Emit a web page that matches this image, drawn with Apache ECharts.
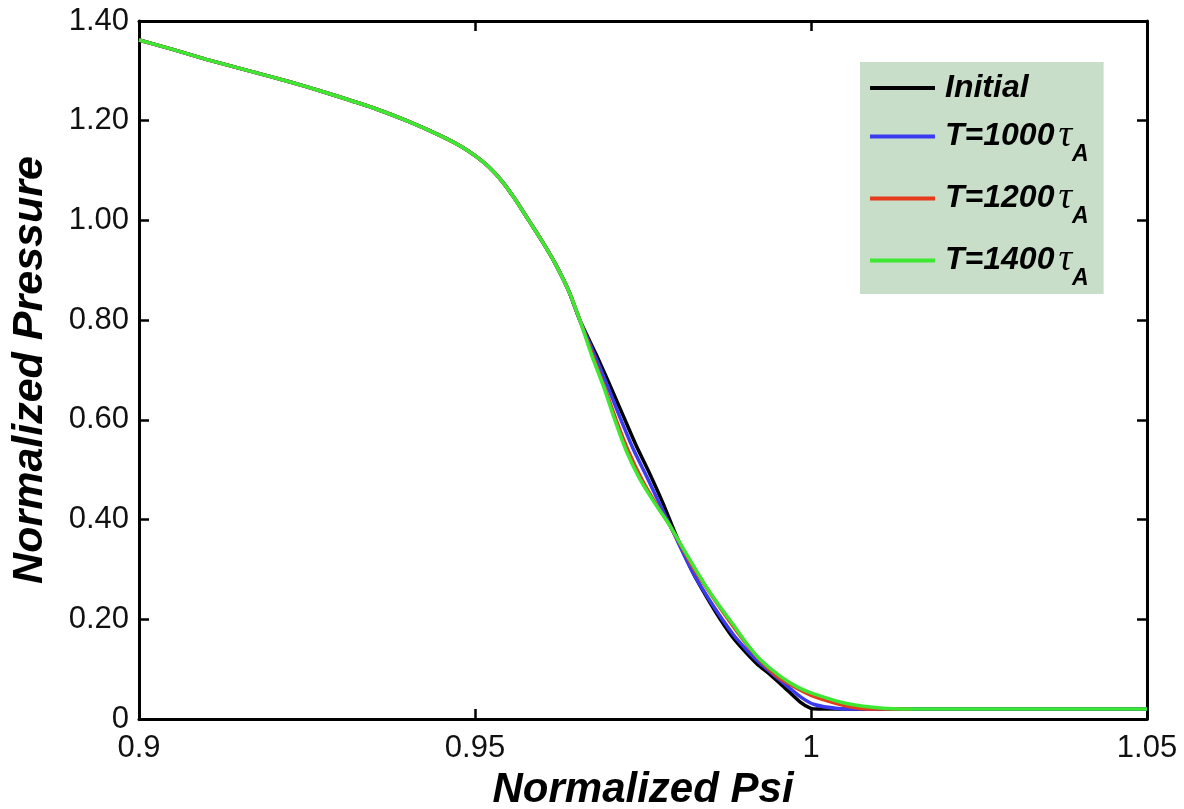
<!DOCTYPE html>
<html>
<head>
<meta charset="utf-8">
<title>Normalized Pressure vs Normalized Psi</title>
<script src="https://cdn.jsdelivr.net/npm/echarts@6/dist/echarts.min.js"></script>
<style>
  html, body { margin: 0; padding: 0; background: #ffffff; }
  #chart { width: 1184px; height: 809px; }
</style>
</head>
<body>
<div id="chart"></div>
<script>
// Profile shared by all four states (core region, psi 0.90 - 0.9656)
const psiCore = [0.900, 0.905, 0.910, 0.915, 0.920, 0.925, 0.930, 0.935, 0.940, 0.945, 0.948, 0.950, 0.952, 0.954, 0.956, 0.958, 0.960, 0.962, 0.964, 0.9656];
const presCore = [1.362, 1.343, 1.323, 1.305, 1.287, 1.268, 1.247, 1.225, 1.199, 1.169, 1.148, 1.130, 1.108, 1.079, 1.042, 1.000, 0.958, 0.912, 0.857, 0.800];

// Edge region for each state
const psiInitial = [0.9680, 0.9699, 0.9720, 0.9740, 0.9760, 0.9780, 0.9800, 0.9825, 0.9845, 0.9865, 0.9884, 0.9904, 0.9920, 0.9940, 0.9960, 0.9984, 0.9999, 1.0010, 1.0500];
const presInitial = [0.732, 0.675, 0.610, 0.548, 0.492, 0.432, 0.366, 0.292, 0.244, 0.200, 0.163, 0.132, 0.110, 0.088, 0.064, 0.034, 0.022, 0.020, 0.020];

const psiT1000 = [0.9678, 0.9696, 0.9716, 0.9736, 0.9756, 0.9776, 0.9796, 0.9824, 0.9855, 0.9884, 0.9904, 0.9924, 0.9954, 0.9985, 1.0005, 1.0040, 1.0070, 1.0500];
const presT1000 = [0.730, 0.672, 0.604, 0.540, 0.485, 0.428, 0.372, 0.294, 0.226, 0.170, 0.139, 0.112, 0.078, 0.044, 0.029, 0.021, 0.020, 0.020];

const psiT1200 = [0.9675, 0.9692, 0.9710, 0.9728, 0.9750, 0.9770, 0.9790, 0.9825, 0.9858, 0.9884, 0.9904, 0.9924, 0.9954, 1.0003, 1.0053, 1.0085, 1.0150];
const presT1200 = [0.730, 0.668, 0.600, 0.538, 0.476, 0.430, 0.388, 0.303, 0.236, 0.186, 0.150, 0.118, 0.081, 0.046, 0.026, 0.020, 0.020];

const psiT1400 = [0.9673, 0.9691, 0.9708, 0.9726, 0.9745, 0.9765, 0.9790, 0.9815, 0.9840, 0.9862, 0.9884, 0.9904, 0.9924, 0.9954, 0.9980, 1.0003, 1.0053, 1.0103, 1.0150, 1.0500];
const presT1400 = [0.732, 0.668, 0.600, 0.535, 0.482, 0.438, 0.388, 0.330, 0.274, 0.230, 0.190, 0.152, 0.120, 0.086, 0.064, 0.051, 0.031, 0.022, 0.020, 0.020];

const seriesNames = ['Initial', 'T=1000', 'T=1200', 'T=1400'];
const seriesColors = ['#000000', '#3a3af0', '#e63a1c', '#3ce831'];

const xTickLabels = ['0.9', '0.95', '1', '1.05'];
const yTickLabels = ['0', '0.20', '0.40', '0.60', '0.80', '1.00', '1.20', '1.40'];

function pairs(xs, ys) {
  return xs.map((x, i) => [x, ys[i]]);
}
function profile(psiTail, presTail) {
  return pairs(psiCore, presCore).concat(pairs(psiTail, presTail));
}

const curves = [
  profile(psiInitial, presInitial),
  profile(psiT1000, presT1000),
  profile(psiT1200, presT1200),
  profile(psiT1400, presT1400)
];

const FONT = '"Liberation Sans", Arial, sans-serif';
const axisLine = { show: true, onZero: false, lineStyle: { color: '#000', width: 3 } };
const axisTick = { show: true, inside: true, length: 10, lineStyle: { color: '#000', width: 2.5 } };

const chart = echarts.init(document.getElementById('chart'), null, { renderer: 'canvas' });

chart.setOption({
  animation: false,
  backgroundColor: '#ffffff',
  grid: { left: 139, right: 37, top: 21, bottom: 90, containLabel: false, outerBoundsMode: 'none' },
  legend: {
    orient: 'vertical',
    left: 860,
    top: 62,
    padding: [10, 15, 4, 10],
    backgroundColor: '#c8dec8',
    icon: 'rect',
    itemWidth: 65,
    itemHeight: 4,
    itemGap: 3,
    selectedMode: false,
    data: seriesNames,
    formatter: function (name) {
      return name === 'Initial' ? '{n|Initial}' : '{n|' + name + '}{t|τ}{s|A}';
    },
    textStyle: {
      color: '#000',
      rich: {
        n: { fontFamily: FONT, fontSize: 32, fontWeight: 'bold', fontStyle: 'italic', color: '#000', lineHeight: 38, padding: [0, 0, 0, 5] },
        t: { fontFamily: '"Liberation Serif", "DejaVu Serif", serif', fontSize: 38, fontStyle: 'italic', color: '#000', lineHeight: 38, padding: [0, 0, 0, 4] },
        s: { fontFamily: FONT, fontSize: 23, fontWeight: 'bold', fontStyle: 'italic', color: '#000', lineHeight: 23, padding: [36, 0, 0, 0] }
      }
    }
  },
  xAxis: [
    {
      type: 'value',
      position: 'bottom',
      min: 0.9,
      max: 1.05,
      interval: 0.05,
      axisLine: axisLine,
      axisTick: axisTick,
      splitLine: { show: false },
      axisLabel: {
        color: '#111', fontFamily: FONT, fontSize: 31, margin: 14,
        formatter: v => xTickLabels[Math.round((v - 0.9) / 0.05)]
      },
      name: 'Normalized Psi',
      nameLocation: 'middle',
      nameGap: 50,
      nameTextStyle: { color: '#000', fontFamily: FONT, fontSize: 42, fontWeight: 'bold', fontStyle: 'italic' }
    },
    {
      type: 'value',
      position: 'top',
      min: 0.9,
      max: 1.05,
      interval: 0.05,
      axisLine: axisLine,
      axisTick: axisTick,
      axisLabel: { show: false },
      splitLine: { show: false }
    }
  ],
  yAxis: [
    {
      type: 'value',
      position: 'left',
      min: 0,
      max: 1.4,
      interval: 0.2,
      axisLine: axisLine,
      axisTick: axisTick,
      splitLine: { show: false },
      axisLabel: {
        color: '#111', fontFamily: FONT, fontSize: 31, margin: 10,
        formatter: v => yTickLabels[Math.round(v / 0.2)]
      },
      name: 'Normalized Pressure',
      nameLocation: 'middle',
      nameGap: 87,
      nameTextStyle: { color: '#000', fontFamily: FONT, fontSize: 43, fontWeight: 'bold', fontStyle: 'italic' }
    },
    {
      type: 'value',
      position: 'right',
      min: 0,
      max: 1.4,
      interval: 0.2,
      axisLine: axisLine,
      axisTick: axisTick,
      axisLabel: { show: false },
      splitLine: { show: false }
    }
  ],
  series: curves.map((data, i) => ({
    name: seriesNames[i],
    type: 'line',
    xAxisIndex: 0,
    yAxisIndex: 0,
    data: data,
    showSymbol: false,
    symbol: 'none',
    smooth: 0.2,
    color: seriesColors[i],
    lineStyle: { color: seriesColors[i], width: 3.5 },
    z: 2 + i
  }))
});
</script>
</body>
</html>
